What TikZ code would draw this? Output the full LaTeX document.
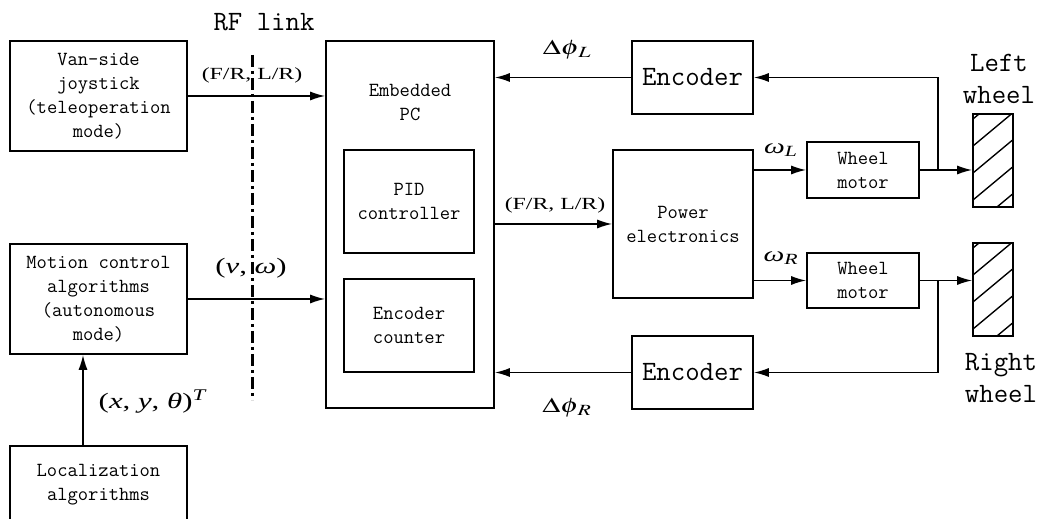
\documentclass[tikz,border=0pt]{standalone}
\usepackage[no-math]{fontspec}
\usepackage{mathptmx}
\setmainfont{Liberation Serif}
\usetikzlibrary{arrows.meta}
\newcommand{\widelbl}[1]{\scalebox{1.4}[1]{#1}}

\begin{document}
\begin{tikzpicture}[x=1pt,y=1pt,
  blk/.style={draw, line width=1.6pt, align=center, inner sep=0pt,
    font=\ttfamily\fontsize{20}{24}\selectfont},
  bigtxt/.style={align=center, inner sep=0pt,
    font=\ttfamily\fontsize{28}{32}\selectfont},
  sig/.style={line width=1.6pt, -{Latex[length=15pt,width=9pt]}},
  lbl/.style={inner sep=0pt, font=\fontsize{17}{17}\selectfont},
  mlbl/.style={inner sep=0pt, font=\fontsize{21}{21}\selectfont}]
  \useasboundingbox (0,0) rectangle (1037,519);

  %% left side: operator inputs
  \node[blk, minimum width=177pt, minimum height=110pt] (joy) at (98.5,423)
    {Van-side\\joystick\\(teleoperation\\mode)};
  \node[blk, minimum width=177pt, minimum height=110pt] (motion) at (98.5,220)
    {Motion control\\algorithms\\(autonomous\\mode)};
  \node[blk, minimum width=177pt, minimum height=78pt] (loc) at (98.5,34)
    {Localization\\algorithms};

  %% embedded PC
  \node[blk, minimum width=168pt, minimum height=367pt] (pc) at (410,294.5) {};
  \node[blk, draw=none] (pcname) at (410,416.5) {Embedded\\PC};
  \node[blk, minimum width=130pt, minimum height=103pt] (pid) at (409,317.5)
    {PID\\controller};
  \node[blk, minimum width=130pt, minimum height=93pt] (cnt) at (409,193.5)
    {Encoder\\counter};

  %% drive side
  \node[blk, minimum width=140pt, minimum height=148pt] (pow) at (683,295)
    {Power\\electronics};
  \node[blk, font=\ttfamily\fontsize{28}{28}\selectfont,
    minimum width=121pt, minimum height=73pt] (encL) at (692.5,441.5) {Encoder};
  \node[blk, font=\ttfamily\fontsize{28}{28}\selectfont,
    minimum width=121pt, minimum height=73pt] (encR) at (692.5,146.5) {Encoder};
  \node[blk, minimum width=112pt, minimum height=56pt] (motL) at (863,349)
    {Wheel\\motor};
  \node[blk, minimum width=112pt, minimum height=55pt] (motR) at (863,238.5)
    {Wheel\\motor};

  %% wheels
  \node[blk, minimum width=40pt, minimum height=93pt] (wheelL) at (993,358.5) {};
  \node[blk, minimum width=40pt, minimum height=93pt] (wheelR) at (993,229.5) {};
  \begin{scope}
    \clip (wheelL.south west) rectangle (wheelL.north east);
    \foreach \k in {-3,...,3}
      \draw[line width=1.4pt] (973,319+27*\k) -- ++(60,50);
  \end{scope}
  \begin{scope}
    \clip (wheelR.south west) rectangle (wheelR.north east);
    \foreach \k in {-3,...,3}
      \draw[line width=1.4pt] (973,190+27*\k) -- ++(60,50);
  \end{scope}
  \node[bigtxt] (wlname) at (999,440) {Left\\wheel};
  \node[bigtxt] (wrname) at (1001,141) {Right\\wheel};

  %% RF link
  \coordinate (rfTop) at (252,464);
  \coordinate (rfBot) at (252,119);
  \draw[line width=3pt, dash pattern=on 12pt off 4pt on 3pt off 4pt] (rfTop) -- (rfBot);
  \node[bigtxt] (rfname) at (264,497) {RF link};

  %% signals
  \draw[sig] (joy) -- (joy -| pc.west);
  \draw[sig] (motion) -- (motion -| pc.west);
  \coordinate (locTop) at ([xshift=-15.5pt]loc.north);
  \draw[sig] (locTop) -- (locTop |- motion.south);
  \draw[sig] (encL) -- (encL -| pc.east);
  \draw[sig] (encR) -- (encR -| pc.east);
  \draw[sig] (pc.east |- pow) -- (pow);
  \draw[sig] (motL -| pow.east) -- (motL);
  \draw[sig] (motR -| pow.east) -- (motR);
  \draw[sig] (motL) -- (motL -| wheelL.west);
  \draw[sig] (motR) -- (motR -| wheelR.west);
  \coordinate (brL) at (938,349);
  \coordinate (brR) at (938,238.5);
  \draw[sig] (brL) |- (encL);
  \draw[sig] (brR) |- (encR);

  %% labels
  \node[lbl] (frTop) at (252,444) {\widelbl{(F/R, L/R)}};
  \node[lbl] (frMid) at (555,314) {\widelbl{(F/R, L/R)}};
  \node[mlbl, font=\fontsize{22}{22}\selectfont] (vw) at (251,251)
    {\widelbl{(\textit{v}, \textit{ω})}};
  \node[mlbl, font=\fontsize{22}{22}\selectfont] (pose) at (153,117)
    {\widelbl{(\textit{x}, \textit{y}, \textit{θ})\textsuperscript{\textit{T}}}};
  \node[mlbl] (dphiL) at (567,469) {\widelbl{$\Delta\phi_{\kern1.5pt L}$}};
  \node[mlbl] (dphiR) at (567,111) {\widelbl{$\Delta\phi_{\kern1.5pt R}$}};
  \node[mlbl] (omL) at (781,369) {\widelbl{\textit{ω}\textsubscript{\textit{L}}}};
  \node[mlbl] (omR) at (781,261) {\widelbl{\textit{ω}\textsubscript{\textit{R}}}};

\end{tikzpicture}
\end{document}
